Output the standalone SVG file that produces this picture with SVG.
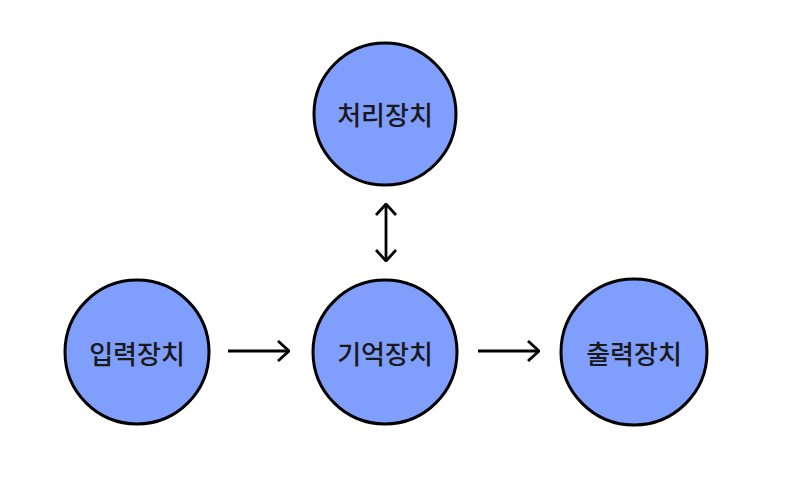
<svg xmlns="http://www.w3.org/2000/svg" width="801" height="477" viewBox="0 0 801 477">
<style>
.node{fill:#809ffd;stroke:#000;stroke-width:3}
.lbl{font-family:"Noto Sans CJK KR","Noto Sans",sans-serif;font-size:26px;font-weight:500;fill:#1a1a1a;text-anchor:middle;dominant-baseline:central}
.edge{stroke:#000;stroke-width:2.8;fill:none}
</style>
<defs>
<marker id="ah" viewBox="0 0 13 22" refX="12" refY="11" markerWidth="13" markerHeight="22" markerUnits="userSpaceOnUse" orient="auto-start-reverse">
<path d="M1,1 L12,11 L1,21" fill="none" stroke="#000" stroke-width="2.8"/>
</marker>
</defs>
<rect width="801" height="477" fill="#fff"/>
<g id="connectors">
<line class="edge" x1="228" y1="351" x2="289" y2="351" marker-end="url(#ah)"/>
<line class="edge" x1="478" y1="351" x2="539" y2="351" marker-end="url(#ah)"/>
<line class="edge" x1="386" y1="204" x2="386" y2="261" marker-start="url(#ah)" marker-end="url(#ah)"/>
</g>
<g id="processing">
<circle class="node" cx="385" cy="114" r="71"/>
<text class="lbl" x="385" y="113">처리장치</text>
</g>
<g id="input">
<circle class="node" cx="137" cy="352" r="72"/>
<text class="lbl" x="137" y="352">입력장치</text>
</g>
<g id="memory">
<circle class="node" cx="385" cy="352" r="72"/>
<text class="lbl" x="385" y="352">기억장치</text>
</g>
<g id="output">
<circle class="node" cx="634" cy="352" r="73"/>
<text class="lbl" x="634" y="352">출력장치</text>
</g>
</svg>
